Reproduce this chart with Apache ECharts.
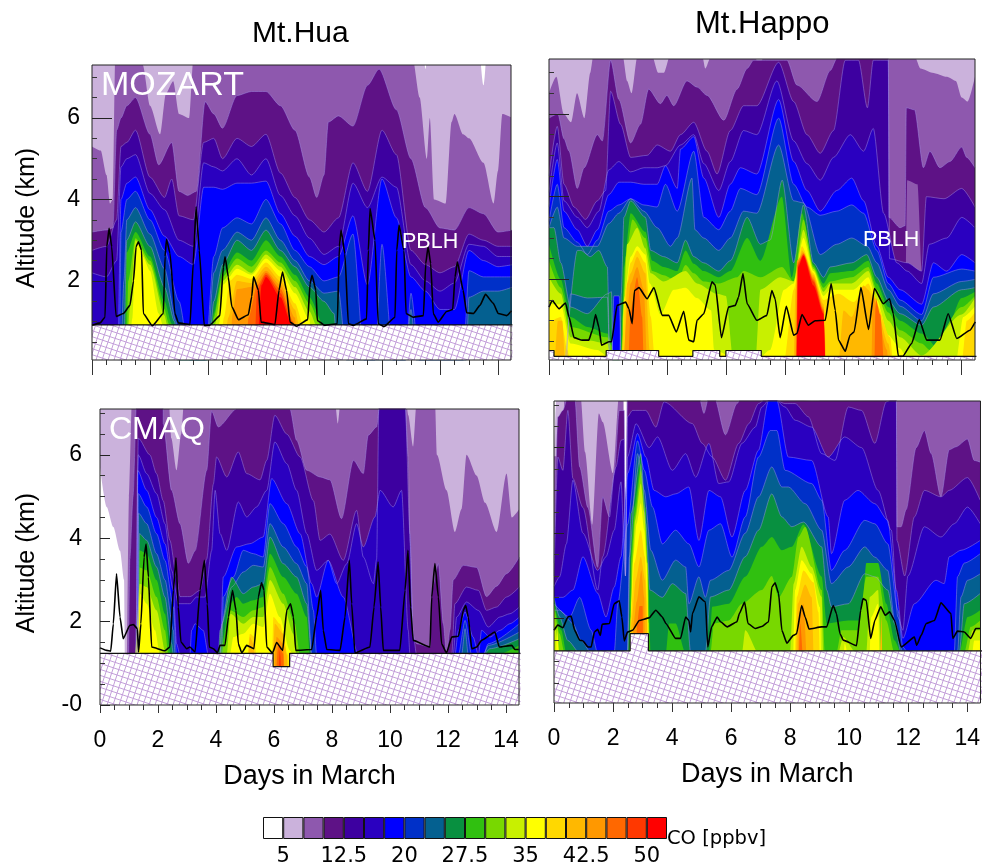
<!DOCTYPE html>
<html><head><meta charset="utf-8">
<style>html,body{margin:0;padding:0;background:#fff}#c{width:983px;height:867px}</style>
<script src="https://cdn.jsdelivr.net/npm/echarts@6/dist/echarts.min.js"></script>
</head><body><div id="c"></div>
<script>
// CO colour classes, white (below 5 ppbv) to red (50+ ppbv)
const coColors = ['#ffffff','#cbb2dc','#8e58ae','#5e1286','#3d00a0','#2a00c0','#0000ff','#0030c8','#046090','#089040','#30c010','#78d800','#c8f000','#ffff00','#ffd800','#ffb800','#ff9800','#ff6800','#ff3800','#ff0000'];
const legendTickLabels = ['5','12.5','20','27.5','35','42.5','50'];
const legendTickPositions = [1,4,7,10,13,16,19];
const majorDays = [0,2,4,6,8,10,12,14];
const minorDays = [0.5,1,1.5,2.5,3,3.5,4.5,5,5.5,6.5,7,7.5,8.5,9,9.5,10.5,11,11.5,12.5,13,13.5];
const minorAlt = [0.5,1,1.5,2.5,3,3.5,4.5,5,5.5,6.5,7];

// Each layer: [colour class, [day, km, day, km, ...]] = filled contour, painted in order
const huaMozart = [
[1,[0,9,11.3,9,11.5,7.2,11.7,9,13.2,9,13.5,6.8,13.75,9,14.5,9]],
[2,[0,5.3,.3,5.2,.5,4.6,.62,3.9,.72,4,.8,7.5,1.5,7.5,1.75,7.3,2,6.3,2.35,5.6,2.55,6.6,2.8,6.9,3,6.1,3.35,6,3.5,7.5,11.05,7.5,11.3,6.5,11.55,5,11.65,6,11.8,4,12.2,3.9,12.4,5.9,12.5,6.1,12.8,5.6,13,5.5,13.5,4.9,13.85,3.9,14,4.7,14.15,6.1,14.5,6]],
[3,[0,3.2,.5,3.25,.72,3.3,.85,5.7,1,6,1.2,6.3,1.5,6.5,2,5.6,2.3,4.85,2.75,5.4,3,4.2,3.3,4.1,3.6,4.2,3.9,6.4,4.2,6.1,4.5,5.75,5,6.55,5.5,6.65,6,6.65,6.5,6.3,7,5.7,7.5,4.55,7.75,4.05,8,4.6,8.15,5.9,8.5,6.05,9,5.8,9.5,6.8,9.9,7.2,10.5,6.2,11,5,11.5,3.8,12,3.3,12.5,3.25,13,3.8,13.5,3.65,14,3.2,14.5,3.25]],
[4,[0,2.75,.5,2.85,.85,3.5,1,5.3,1.2,5.4,1.5,5.7,2,4.55,2.5,4.05,2.75,4.5,3,3.6,3.5,3.5,3.85,5.4,4.2,5.5,4.5,5,5,5.5,5.5,5.3,6,5.6,6.5,4.65,7,4.05,7.5,3.5,8,3.2,8.5,3.55,9,4.9,9.5,4.2,10,5.7,10.5,5.1,11,2.75,11.5,2.4,12,2.2,12.5,2.35,13,3.15,13.5,3,14,2.85,14.5,2.85]],
[5,[0,2.2,.5,2.1,.85,2.5,1,4.8,1.2,5,1.5,5.1,2,4.15,2.5,3.75,3,3,3.5,2.85,3.85,4.9,4.2,4.8,4.5,4.7,5,5,5.5,4.6,6,5,6.5,4.1,7,3.6,7.5,3.05,8,2.65,8.5,2.85,9,4.4,9.5,3.8,10,4.55,10.5,4.3,11,2.4,11.5,2,12,1.75,12.5,1.95,13,2.9,13.5,2.85,14,2.6,14.5,2.6]],
[6,[.9,0,1,4,1.2,4.4,1.5,4.55,2,3.75,2.5,3.1,3,2.6,3.5,2.4,3.85,4.3,4.2,4.3,4.5,4.25,5,4.4,5.5,4.4,6,4.45,6.5,3.65,7,3.1,7.5,2.6,8,2.4,8.5,2.6,9,3.6,9.5,1.9,10,4.5,10.5,3.55,11,2.1,11.5,1.75,12,1.3,12.5,1.3,13,2.75,13.5,2.5,14,2.35,14.5,2.4]],
[7,[.95,0,1,3.2,1.2,4,1.5,4.2,2,3.5,2.5,2.75,3,1.5,3.4,0,3.9,0,4.2,2.6,4.5,3.3,5,3.55,5.5,3.4,6,4,6.5,3.4,7,2.75,7.5,2.35,8,2,8.5,2.1,9,3.15,9.4,0,9.75,0,10,2.9,10.4,0,10.8,0,11,1.7,11.3,0,12.8,0,13,2.25,13.5,2.1,14,2.1,14.5,2.1]],
[8,[1,0,1.1,2,1.2,3.5,1.5,3.8,2,3.15,2.5,2.3,2.9,1,3,0,3.95,0,4.2,2.2,4.5,2.75,5,3.2,5.5,3,6,3.55,6.5,3,7,2.5,7.5,2,8,1.7,8.5,1.75,8.8,0,10.8,0,11,1.3,11.2,0,12.9,0,13,1.6,13.5,1.75,14,1.75,14.5,1.85]],
[9,[1.1,0,1.2,3,1.5,3.45,2,2.85,2.5,1.85,2.85,1,2.95,0,4,0,4.2,1.5,4.5,2.4,5,3,5.5,2.75,6,3.25,6.5,2.75,7,2.35,7.5,1.85,8,1.5,8.35,1.2,8.45,0]],
[10,[1.15,0,1.2,2.7,1.5,3.2,2,2.6,2.5,1.5,2.75,.95,2.85,0,4.05,0,4.2,1.2,4.5,2.2,5,2.7,5.5,2.5,6,3,6.5,2.6,7,2.15,7.5,1.6,8,.9,8.1,0]],
[11,[1.2,0,1.25,2,1.5,3.05,2,2.5,2.5,1.3,2.65,.95,2.75,0,4.1,0,4.2,1.1,4.5,2.1,5,2.55,5.5,2.35,6,2.75,6.5,2.45,7,2,7.5,1.45,7.9,.9,8,0]],
[12,[1.2,0,1.3,1.3,1.5,3,2,2.4,2.5,1.15,2.6,.9,2.65,0,4.15,0,4.25,.95,4.5,2,5,2.4,5.5,2.2,6,2.65,6.5,2.35,7,1.85,7.5,1.25,7.75,.9,7.85,0]],
[13,[1.25,0,1.4,1.1,1.5,2.8,1.6,2.95,1.75,2.6,2,2.25,2.3,1.2,2.45,.9,2.5,0,4.25,0,4.4,1,4.5,1.9,5,2.3,5.5,2.15,6,2.55,6.5,2.25,7,1.7,7.5,1.05,7.6,0]],
[14,[4.4,0,4.55,1.1,4.75,2,5,2.15,5.5,2.05,6,2.45,6.5,2.1,7,1.45,7.3,.9,7.4,0]],
[15,[4.55,0,4.7,1.1,5,2,5.5,1.95,6,2.35,6.5,2,7,1.3,7.15,.9,7.25,0]],
[16,[4.75,0,4.85,1.2,5,1.8,5.5,1.85,6,2.25,6.5,1.9,7,1.1,7.1,0]],
[17,[5.3,0,5.4,1.1,5.7,1.9,6,2.2,6.5,1.8,6.95,1,7,0]],
[18,[5.6,0,5.7,1.8,6,2.15,6.5,1.7,6.9,1,6.95,0]],
[19,[5.7,0,5.85,1.9,6,2.1,6.5,1.6,6.85,1,6.9,0]]
];
const happoMozart = [
[1,[0,9,14.5,9]],
[2,[0,6.5,.25,6.9,.5,6,.75,5.8,.95,6.5,1.2,5.9,1.4,7,1.5,7.4,2.5,7.4,2.65,6.8,2.8,6.5,3,7.4,3.5,7.4,3.7,7,3.9,7,4.1,7.4,5.2,7.4,5.3,7.1,5.5,7.4,7,7.4,7.1,7.1,7.3,7.4,12.4,7.4,12.6,7.1,13,7,13.5,6.9,13.8,6.8,14,6.4,14.2,6.3,14.45,6.9]],
[3,[0,5.9,.3,6,.51,5.4,.68,5.1,.96,4.2,1.19,4.7,1.64,5.5,1.81,5.35,2.09,7.3,2.37,6.35,2.77,5.3,3.1,5.75,3.38,6.6,3.78,6.25,4,6.45,4.23,6.2,4.68,6.8,5.02,6.65,5.36,6.45,5.93,5.85,6.38,6.6,6.72,7.1,6.94,7.3,8.07,7.3,8.41,6.7,9.09,6.3,9.54,7.05,9.77,7.35,11.51,7.35,11.53,3.5,11.91,3.25,12.08,3.3,12.12,6.15,12.4,6.1,12.7,4.7,12.92,5.1,13.26,4.7,13.6,4.85,14,5.2,14.17,4.95,14.45,4.7]],
[2,[12.08,0,12.15,4.4,12.5,4.3,12.65,2.2,12.7,0]],
[4,[0,4.5,.28,5.7,.51,4.3,.85,3.75,1.24,3.45,1.64,3.9,1.92,4.15,2.09,6.55,2.43,5.75,2.77,4.95,3.33,5,3.67,5.25,4.12,5.1,4.46,5.5,4.91,5.8,5.36,5.1,5.7,4.55,6.15,5.6,6.6,6.2,7.05,6.2,7.79,7.25,8.3,6.3,8.75,5.5,9.2,5.05,9.65,5.6,10.05,7.3,10.5,7.3,10.8,6.15,11,7.3,11.51,7.3,11.55,2.5,12.15,2.4,12.64,2.2,12.8,4,13.4,3.95,14,4.2,14.45,3.75]],
[5,[0,4.1,.28,5.3,.51,3.9,.96,3.5,1.3,3.25,1.69,3.65,2.03,4.65,2.37,4.85,2.77,4.6,3.22,4.7,3.67,4.7,3.95,4.75,4.46,5.25,4.91,5.5,5.25,4.8,5.76,4.15,6.15,4.85,6.6,5.6,7.05,5.5,7.73,6.8,8.3,5.35,8.75,4.8,9.2,4.4,9.65,4.95,10.22,5.5,10.67,5.1,11,5.65,11.35,3.6,11.8,2.4,12.15,2.2,12.64,1.9,12.9,2.85,13.49,3,14,3.5,14.45,3.25]],
[6,[0,3.75,.28,4.9,.51,3.65,.96,3.2,1.3,2.8,1.64,3.2,2.03,4.05,2.37,4.35,2.77,4.35,3.22,4.3,3.67,4.3,3.95,4.75,4.35,4.2,4.46,5.15,4.91,5.45,5.25,4.45,5.76,3.5,6.15,4.3,6.49,4.7,7.05,4.55,7.79,6.35,8.3,4.85,8.75,4.15,9.2,3.65,9.76,4.15,10.27,4.45,10.67,3.9,11.12,2.8,11.51,2.05,11.91,1.75,12.64,1.4,13.04,2.4,13.49,2.2,14,2.6,14.45,2.4]],
[7,[0,3.4,.28,4.3,.51,3.25,.96,2.9,1.3,2.6,1.64,2.95,2.03,3.65,2.37,3.8,2.77,3.95,3.22,3.8,3.67,3.75,3.95,4.3,4.35,3.65,4.91,5.1,5.25,3.5,5.76,3.2,6.15,3.65,6.49,4.2,7.05,4.05,7.79,5.9,8.3,4.3,8.75,3.75,9.2,3.55,9.76,3.65,10.27,3.8,10.67,3.6,11.12,2.7,11.51,1.9,11.91,1.5,12.64,1.15,13.04,2.05,14,2.25,14.45,2.2]],
[8,[0,3.25,.28,3.75,.51,3,.96,2.8,1.3,2.8,1.64,2.8,2.03,3.35,2.37,3.6,2.77,3.95,3.22,3.65,3.67,3.25,4.12,2.8,4.35,3,4.85,4.45,4.95,3.2,5.25,3,5.76,2.7,6.15,3,6.6,3.65,7.05,3.6,7.79,5.25,8.3,3.9,8.63,3.85,9.2,2.6,9.76,2.85,10.27,3,10.8,2.8,11.12,2.4,11.51,1.75,11.91,1.35,12.64,1,13.04,1.65,14,1.95,14.45,2]],
[9,[.55,0,.96,2.7,1.08,2.7,1.4,2.55,1.69,2.7,1.98,2.3,2.05,0]],
[8,[.6,0,.73,1.65,1.3,1.55,1.98,1.57,2.05,0]],
[9,[0,3.25,.17,3.25,.4,2.4,.73,1.33,1.3,1.17,1.98,1.65,2.12,1.7,2.16,0,2.4,0,2.45,1.65,2.54,3.5,2.77,3.9,3.27,3.5,3.45,2.7,3.89,2.55,4.35,2.4,4.63,2.95,4.91,2.55,5.25,2.4,5.76,2.2,6.15,2.45,6.72,3.5,7.17,2.85,7.5,2.95,7.91,4.4,8.3,2.4,8.63,3.8,8.97,2.4,9.31,2.05,9.54,2.3,10.27,2.4,10.78,2.6,11.12,2.05,11.51,1.49,11.91,1.17,12.64,.89,13.04,1.33,14,1.75,14.45,1.8]],
[6,[2.14,0,2.2,1.6,2.38,1.6,2.44,0]],
[10,[0,2.85,.4,2,.73,1.09,1.3,.85,1.98,.69,2.12,.5,2.14,0,2.44,0,2.49,1.09,2.54,2.3,2.77,3.6,3.27,3.15,3.5,2.45,3.89,2.3,4.35,2.2,4.63,2.7,4.91,2.38,5.25,2.2,5.76,2.05,6.15,2.2,6.72,3,7.17,2.45,7.9,4,8.24,2.05,8.58,3.6,8.97,2.35,9.31,1.9,9.54,2.15,10.27,2.2,10.83,2.45,11.12,1.9,11.51,1.33,11.91,1,12.64,.69,13.26,.29,14,1.55,14.45,1.7]],
[11,[0,2.45,.4,1.8,.73,.85,1.98,.6,2.12,.4,2.14,0,2.46,0,2.5,1.09,2.6,2.55,2.83,3.45,3.27,3,3.5,2.2,3.89,2.1,4.35,1.95,4.63,2.35,4.91,2.15,5.25,1.95,5.76,1.9,6.38,2.05,6.6,2.2,7.17,2.05,7.9,2.3,8.3,1.95,8.63,3.45,8.97,2.3,9.31,1.8,9.54,1.95,10.27,2.05,10.83,2.3,11.12,1.75,11.51,1.2,11.91,.77,12.64,.45,12.92,.29,14,1.33,14.45,1.6]],
[12,[0,2.05,.4,1.65,.73,.6,1.3,.53,1.98,.45,2.14,0,2.5,0,2.52,1.09,2.65,2.85,2.99,3.25,3.27,2.75,3.45,2.15,3.89,1.95,4.63,2.2,5.02,1.9,5.7,1.65,6,1.6,6.26,0,7,0,7.17,1.75,7.84,2.05,8.3,1.95,8.63,3.2,8.97,2.25,9.31,1.7,9.54,1.9,10.27,1.9,10.83,2.2,11.12,1.65,11.51,1,11.91,.6,12.64,.16,14,1.15,14.45,1.55]],
[13,[0,1.4,.4,1.4,.73,.45,1.64,.29,1.98,.14,2.4,0,2.5,0,2.54,1.5,2.77,2.55,2.99,2.8,3.27,2.6,3.42,1.9,3.78,1.15,4.23,1.75,4.63,1.8,5.02,1.55,5.5,1.25,5.6,.3,6.15,.15,6.3,0,7,0,7.5,.29,7.97,1.75,8.3,1.9,8.63,3,8.97,2.2,9.31,1.6,9.54,1.75,10.33,1.75,10.83,2.05,11.12,1.5,11.51,.65,11.91,.33,12.2,0,13.8,0,14.05,1.09,14.45,1.35]],
[14,[0,.95,.4,1.09,.62,.29,.73,0,2.45,0,2.6,1.75,2.77,2.4,2.99,2.7,3.27,2.4,3.45,1.1,3.6,0,7.97,0,8.3,1.75,8.58,2.8,8.97,2.15,9.31,1.5,9.82,1.65,10.33,1.45,10.83,1.9,11.12,1.4,11.57,.6,11.68,0,14,0,14.17,1,14.45,1.2]],
[15,[.2,0,.3,1,.45,1,.55,0,2.55,0,2.65,1.9,2.77,2.15,2.99,2.55,3.27,2.15,3.42,.3,3.5,0,8.3,0,8.36,1.75,8.58,2.7,8.97,2.1,9.31,1.4,9.42,0,9.82,0,9.99,1.25,10.27,1.09,10.67,1.85,10.83,1.75,11.12,1.25,11.51,.45,11.62,0]],
[16,[2.54,0,2.65,1.25,2.77,1.9,2.99,2.3,3.22,1.75,3.33,0,8.36,0,8.41,2.45,8.63,2.65,8.97,2.05,9.31,1.32,9.37,0,10.94,0,10.99,1.8,11.12,1.2,11.46,.3,11.51,0]],
[17,[2.7,0,2.77,1.25,2.99,2.05,3.16,1.09,3.22,0,8.38,0,8.44,2.4,8.63,2.62,8.97,2,9.31,1.27,9.37,0,11.04,0,11.08,1.55,11.24,1.15,11.35,0]],
[18,[8.4,0,8.44,2.35,8.63,2.6,8.97,1.95,9.31,1.22,9.37,0]],
[19,[8.41,0,8.45,2.3,8.63,2.57,8.97,1.85,9.31,1.17,9.37,0]]
];
const huaCmaq = [
[1,[0,9,14.5,9]],
[0,[0,5.7,.23,4.75,.46,4.27,.69,3.7,.83,3,.87,0]],
[2,[.92,0,1,5,1.1,7.3,2.37,7.3,2.46,6.4,2.64,5.63,2.8,6.5,2.9,7.3,8.1,7.3,8.2,6.75,8.3,7.3,10.55,7.3,10.63,6.95,10.8,6.2,10.92,7.3,11.55,7.3,11.62,6,11.95,5.15,12.24,4.15,12.47,4.7,12.64,6,12.99,5.5,13.28,4.85,13.68,4.15,14.02,5.55,14.2,4.5,14.46,4.7]],
[3,[.97,0,1.03,3.5,1.14,5,1.26,7.3,2.18,7.3,2.18,6.75,2.47,5.15,2.76,4.35,3.05,3.4,3.28,3.7,3.68,5.63,3.85,7.05,4.08,6.67,4.71,7.1,6.55,7.1,6.78,6.35,7.13,5.63,7.59,5.47,7.93,5.4,8.33,4.47,8.74,5.87,9.08,5.55,9.25,6.47,9.54,6.67,9.66,7.3,10.52,7.3,10.63,5.95,10.69,3.9,10.8,1.63,10.92,1.47,11.38,1.39,11.44,2.75,11.67,3.39,11.84,1.95,11.95,1.2,12.07,1.8,12.18,3,12.53,3.35,12.99,3.3,13.33,2.6,13.68,2.85,14.02,3.15,14.46,3.55]],
[4,[1.2,0,1.25,2,1.32,6.4,1.72,6,1.95,5.55,2.18,4.9,2.41,3.95,2.64,3.07,2.76,2.6,3.1,2.6,3.45,2.75,3.68,3.5,3.91,5.3,4.02,5.95,4.37,5.47,4.77,6.07,5.06,5.55,5.52,5.4,5.75,5.87,6.03,6.95,6.44,6.5,6.9,5.95,7.36,4.9,7.59,3.95,7.93,4.1,8.39,3.47,8.85,4.67,9.08,3.55,9.43,2.91,9.54,3.5,9.62,7.3,10.52,7.3,10.69,4.1,10.8,1.7,10.92,1.2,12.13,1.2,12.24,2.43,12.64,2.83,13.05,2.75,13.33,2.27,13.68,2.35,14.02,2.59,14.46,2.83]],
[5,[1.25,0,1.29,5.5,1.32,6,1.61,5.55,1.95,5.07,2.24,4.35,2.47,3.23,2.7,2.43,3.1,2.43,3.33,2.59,3.62,2.59,3.85,3.7,3.97,5.15,4.14,4.11,4.37,3.71,4.77,4.87,5.06,4.51,5.4,4.75,5.75,5.15,6.03,6.31,6.44,5.79,6.78,5.15,7.13,4.11,7.47,3.23,7.87,3.47,8.16,2.91,8.51,3.39,8.85,4.35,9.08,3.79,9.48,4.51,9.66,5.15,10.11,4.75,10.4,5.15,10.63,1.79,10.69,1.2,12.18,1.2,12.3,2.11,12.64,2.47,13.05,2.27,13.39,1.87,13.79,2.11,14.14,2.19,14.46,2.35]],
[6,[1.27,0,1.3,5.63,1.61,5.15,1.95,4.5,2.24,3.87,2.53,2.75,2.64,1.47,2.76,1.2,3.1,1.2,3.16,1.79,3.28,1.95,3.56,1.79,3.74,1.2,4.14,1.2,4.25,3.07,4.71,3.79,5.17,3.87,5.63,4.03,5.92,5.43,6.44,4.83,6.9,4.11,7.3,2.91,7.47,2.59,7.87,3.47,8.39,2.59,8.91,1.2,12.24,1.2,12.36,1.79,12.59,2.23,12.87,1.63,13.05,1.2,13.16,1.79,13.45,1.63,13.79,1.79,14.14,1.95,14.46,2.11]],
[7,[1.3,0,1.32,5.07,1.61,4.75,1.95,4.11,2.24,3.47,2.53,2.35,2.64,1.2,4.2,1.2,4.25,2.59,4.6,3.07,4.94,3.71,5.29,3.63,5.63,3.55,5.86,4.83,6.32,4.35,6.78,3.79,7.13,3.31,7.36,2.27,7.47,1.2,12.36,1.2,12.59,2.03,12.82,1.2,13.22,1.2,13.39,1.47,14.46,1.95]],
[8,[1.3,0,1.33,4.6,1.61,4.35,1.95,3.63,2.24,3,2.53,1.79,2.59,1.2,4.14,1.2,4.2,1.95,4.54,2.83,4.94,3.19,5.29,3.35,5.63,3.31,5.86,4.35,6.32,3.79,6.78,3.39,7.13,2.91,7.3,1.2,12.47,1.2,12.59,1.83,12.7,1.2,13.22,1.2,13.39,1.43,14.46,1.75]],
[9,[1.31,0,1.36,4.11,1.61,3.95,1.95,3.31,2.24,2.59,2.47,1.47,2.53,1.2,4.08,1.2,4.14,1.79,4.54,3.07,4.94,2.67,5.29,2.83,5.63,2.91,5.86,4.03,6.32,3.39,6.78,3.07,7.13,2.43,7.3,1.2,13.22,1.2,13.45,1.35,14.46,1.59]],
[10,[1.32,0,1.36,3.71,1.61,3.63,1.95,3,2.24,2.19,2.44,1.2,4.14,1.2,4.2,1.47,4.48,2.43,4.71,2.59,4.94,2.43,5.29,2.51,5.63,2.59,5.86,3.63,6.32,3.07,6.78,2.67,7.13,2.11,7.24,1.2,13.68,1.2,14.46,1.43]],
[11,[1.33,0,1.37,3.3,1.61,3.23,1.95,2.59,2.24,1.79,2.36,1.2,4.2,1.2,4.25,1.39,4.48,2.27,4.94,2.11,5.29,2.27,5.63,2.35,5.86,3.31,6.32,2.67,6.72,1.95,6.9,1.2,6.95,0]],
[12,[1.2,0,1.21,1.2,1.37,2.91,1.61,2.83,1.95,2.27,2.28,1.2,4.37,1.2,4.5,2.19,4.94,1.95,5.29,2.11,5.63,2.11,5.86,3,6.32,2.43,6.67,1.71,6.78,1.2,6.85,0]],
[13,[1.25,0,1.26,1.2,1.38,2.67,1.61,2.43,1.9,1.79,2.07,1.2,4.48,1.2,4.6,1.63,4.94,1.71,5.29,1.95,5.63,1.87,5.86,2.67,6.2,2.11,6.55,1.31,6.67,1.2,6.72,0]],
[14,[5,0,5.17,1.71,5.34,1.63,5.46,0,5.9,0,5.98,2.11,6.2,1.95,6.49,1.2,6.55,0]],
[15,[5.06,0,5.17,1.63,5.29,1.47,5.4,0,5.9,0,6.03,1.95,6.32,1.71,6.44,1.2,6.5,0]],
[16,[5.97,0,6.09,1.63,6.32,1.47,6.4,0]],
[17,[6.03,0,6.15,1.47,6.32,1.23,6.37,0]],
[18,[6.12,0,6.2,1.31,6.3,0]]
];
const happoCmaq = [
[1,[0,5.8,.08,7.2,2.35,7.2,2.38,3,2.43,3,2.46,7.2,14.5,7.2]],
[2,[0,5.8,.3,5.8,.35,7.2,.9,7.2,1.05,5.9,1.3,4.2,1.52,6.8,1.65,6.6,2,5.4,2.2,7.2,2.35,7.2,2.38,3,2.45,3,2.48,7.2,14.5,7.2]],
[3,[0,3.3,.13,6.72,.3,6.87,.47,7.2,.7,7.2,.87,5.55,1.15,4.6,1.48,3.2,1.65,4.85,1.88,4.38,2.04,5.4,2.21,6.87,2.38,6.87,2.42,3,2.49,7.2,4.91,7.2,5.08,6.8,5.25,7.2,5.42,7.2,5.81,6.3,6.2,7.03,6.37,7.2,8.96,7.1,9.18,7.2,11.6,7.2,11.62,4.15,11.76,4.15,11.93,4.55,12.27,6,12.55,6.4,12.78,5.86,13.11,4.85,13.39,5.95,13.62,6.02,14.01,6.2,14.24,5.7,14.44,5.66]],
[4,[0,3,.13,5.78,.3,5.47,.47,6.87,.64,5.28,.98,4.6,1.48,2.67,1.65,3.45,2.1,5.55,2.27,6.17,2.38,6.2,2.42,3,2.49,6.72,2.66,6.87,3.11,6.87,3.45,6.48,3.73,7.07,4.69,6.56,5.02,6.1,5.36,5.78,5.81,5.24,6.26,6.1,6.6,6.56,6.93,7.03,7.27,7.2,7.83,7.03,8.17,7.03,8.62,6.72,9.07,5.86,9.52,5.7,9.97,6.95,10.42,6.87,10.87,6.1,11.26,7.07,11.6,7.2,11.62,3.83,11.88,3,12.21,4.38,12.55,5,13.11,4.85,13.39,5,14.01,5.3,14.44,4.77]],
[5,[0,2.75,.19,2.98,.42,3.75,.64,5.24,.98,4,1.48,3.13,1.76,3.45,2.04,4.07,2.27,5.2,2.42,3,2.49,5.78,2.78,6.56,3.22,6,3.51,6.25,4.01,5.47,4.46,5.86,4.8,5.31,5.25,6.1,5.58,5.16,5.92,5.2,6.37,6.1,6.82,6.48,7.04,6.95,7.38,7.2,7.83,6.95,8.17,6.64,8.73,6.48,9.29,5.78,9.85,6.25,10.42,6,10.98,5,11.43,4.07,11.65,2.04,11.82,1.73,11.99,3,12.55,4.15,13.11,3.91,13.56,4.22,14.01,4.61,14.44,4.22]],
[6,[0,2.5,.3,2.5,.64,2.67,.98,3.45,1.48,2.6,1.76,2.04,2.04,2.74,2.27,3.45,2.49,5.39,2.83,6.33,3.11,5.78,3.39,5,3.79,4.85,4.12,4.92,4.57,5.08,4.91,3.83,5.25,5,5.64,4.85,6.03,3.91,6.48,5,6.93,5.94,7.27,7.1,7.55,7.1,7.94,5.78,8.73,5.7,9.29,4.38,9.4,3.52,9.85,4.77,10.3,5,10.87,4.69,11.31,4.3,11.6,2.67,11.82,1.54,12.21,2.35,12.94,2.9,13.22,2.82,13.39,3.45,13.79,3.6,14.44,3.83]],
[7,[0,2.35,.53,2.04,.87,2.5,1.26,1.73,1.48,1.2,2.04,1.2,2.16,2.35,2.49,4.2,2.83,6.16,3.06,5.47,3.34,4.61,3.67,3.75,4.12,4.07,4.57,3.75,4.91,3.21,5.25,4.07,5.64,4.22,6.03,3.44,6.48,4.38,6.93,5.78,7.33,6.4,7.55,6.4,7.83,5.47,8.73,5.16,9.07,4.77,9.4,3.13,9.85,3.6,10.53,4.3,10.87,4.22,11.31,3.75,11.65,2.2,11.82,1.34,11.99,1.2,13.56,1.2,13.67,2.98,13.9,3.3,14.44,3.52]],
[8,[0,2.2,.19,2.2,.64,1.89,.92,1.49,1.26,1.2,2.49,1.2,2.55,3.44,2.83,5.86,3.06,5,3.28,3.6,3.67,2.9,4.12,3.37,4.46,3.21,4.57,2.35,4.91,2.98,5.13,2.5,5.3,2.9,5.92,3.13,6.48,4,6.93,4.85,7.38,5.55,7.72,5.08,7.94,5.08,8.51,4.69,9.07,4.07,9.4,2.82,9.97,3.21,10.53,3.68,10.87,3.44,11.31,3.13,11.54,1.96,11.82,1.2,13.67,1.2,13.79,2.51,14.01,2.9,14.44,3.05]],
[9,[0,2.5,.19,2.04,.47,1.49,.87,1.2,2.49,1.2,2.61,4.46,2.94,5.86,3.11,4.22,3.25,2.67,3.67,2.5,4.01,2.82,4.46,2.59,4.63,1.2,5.13,1.2,5.3,2.51,5.92,2.67,6.48,3.45,6.93,4.07,7.38,4.92,7.72,4.38,8.06,4.15,8.45,4.26,9.07,3.68,9.24,2.67,9.4,2.28,9.97,2.35,10.53,3.05,10.87,2.98,11.31,2.67,11.54,1.89,11.76,1.2,13.73,1.2,13.9,2.35,14.44,2.59]],
[10,[0,2.35,.25,1.73,.42,1.2,2.55,1.2,2.62,3.6,2.72,4.6,2.94,5.63,3.1,4.6,3.18,3.3,3.28,1.2,3.79,1.2,3.9,1.89,4.12,1.89,4.46,1.2,5.25,1.2,5.36,2.28,5.92,2.35,6.48,2.98,7.04,3.68,7.38,3.91,7.72,3.6,8.06,3.68,8.45,4.2,9.07,2.98,9.24,1.89,9.97,1.96,10.42,1.96,10.58,3.3,10.98,3.3,11.26,2.35,11.54,1.49,11.76,1.2,13.73,1.2,14.01,2.04,14.44,2.2]],
[11,[0,2.35,.19,1.65,.36,1.2,2.58,1.2,2.63,3.4,2.74,4.4,2.94,5.47,3.08,4.4,3.17,3.3,3.24,1.2,5.3,1.2,5.42,1.89,5.92,1.96,6.37,2.35,7.04,2.67,7.38,3,7.61,2.5,8.06,2.98,8.28,3.91,8.51,4.15,9.07,2.67,9.18,1.2,9.57,1.2,9.74,1.73,10.3,1.73,10.58,2.98,10.98,2.98,11.26,1.96,11.54,1.2,13.9,1.2,14.12,1.81,14.44,1.96]],
[12,[0,2.2,.17,1.2,2.6,1.2,2.66,3.3,2.75,4.3,2.94,5.16,3.06,4.5,3.16,3.3,3.22,1.2,6.37,1.2,6.48,1.73,6.93,1.2,8,1.2,8.12,2.82,8.39,3.68,8.73,3.21,9.07,2.51,9.12,1.2,9.63,1.2,9.8,1.57,10.24,1.2,10.58,1.2,10.7,2.51,10.98,2.67,11.09,1.2,14.01,1.2,14.18,1.73,14.44,1.73]],
[13,[.05,0,.1,1.8,.18,1.2,.2,0,2.55,0,2.62,2.4,2.69,3.45,2.8,4.22,2.94,4.7,3.06,4.07,3.14,3.3,3.2,1.9,3.22,0,8.06,0,8.17,2.67,8.39,3.37,8.73,3.05,9.01,2.27,9.09,0,9.74,0,9.85,1.42,10.19,0,10.64,0,10.75,2.04,10.98,2.35,11.07,0,14.01,0,14.24,1.49,14.44,1.49]],
[14,[2.55,0,2.6,2,2.72,3.3,2.94,4.07,3.08,3.45,3.16,2.4,3.2,0,8.12,0,8.23,2.51,8.45,3.13,8.79,2.85,8.96,2.15,9.04,0]],
[15,[2.58,0,2.62,1.9,2.77,2.9,2.94,3.45,3.09,2.9,3.15,2,3.18,0,8.17,0,8.26,2.35,8.51,2.8,8.73,2.5,8.85,0,11.03,0,11.09,2.04,11.15,0]],
[16,[2.62,0,2.7,1.9,2.8,2.4,2.96,3.13,3.06,2.5,3.1,0,8.23,0,8.31,2.04,8.45,2.35,8.62,0]],
[17,[2.75,0,2.82,1.9,2.9,2.3,3,2.3,3.05,0,8.26,0,8.34,1.89,8.51,0]]
];

// Planetary boundary layer height: day, km, day, km, ...
const huaMozartPblh = [0,.91,.28,.97,.45,1.11,.51,2.84,.59,3.29,.68,2.84,.83,1.13,1.08,1.2,1.31,1.4,1.43,2,1.52,2.84,1.6,2.96,1.71,2.75,1.77,1.2,2.08,.9,2.46,1.2,2.52,2.6,2.57,3.02,2.69,2.68,2.86,1.2,2.98,.97,3.38,.93,3.49,2.43,3.59,3.82,3.7,2.75,3.87,.91,4.05,.91,4.41,1.15,4.53,2.34,4.59,2.59,4.7,2.1,4.82,1.37,5.05,1.05,5.39,1.17,5.51,1.62,5.57,2.1,5.74,1.77,5.83,.99,6.31,.93,6.45,1.77,6.57,2.22,6.71,1.77,6.83,.99,7.06,.89,7.44,1.05,7.52,1.93,7.59,2.14,7.72,1.77,7.77,1.03,8.03,.91,8.46,.95,8.53,2.84,8.59,3.25,8.72,2.67,8.84,.95,9.01,.91,9.47,1.07,9.53,2.75,9.59,3.78,9.76,3,9.87,.95,10.07,.88,10.45,1.11,10.51,2.75,10.59,3.37,10.76,2.75,10.83,1.2,11.08,1.11,11.43,1.15,11.51,2.43,11.59,2.84,11.68,2.43,11.77,1.2,11.94,.99,12.23,1.25,12.44,1.3,12.52,2.1,12.6,2.47,12.8,1.77,12.92,1.22,13.15,1.2,13.38,1.4,13.57,1.67,13.84,1.45,14.01,1.2,14.3,1.15,14.47,1.27];
const happoMozartPblh = [0,1.33,.11,1.49,.34,1.29,.56,1.43,.68,1.09,.85,.59,1.13,.53,1.35,.53,1.47,.77,1.58,1.15,1.69,.85,1.78,.41,2.03,.49,2.12,.49,2.31,1.37,2.6,1.45,2.71,1.29,2.82,.93,2.9,1.73,3.05,1.8,3.33,1.53,3.56,1.8,3.84,1.13,4.06,1.13,4.32,.73,4.57,1.23,4.74,.53,4.91,.49,5.02,1.01,5.25,1.17,5.53,1.94,5.64,1.86,5.85,.59,6.09,1.33,6.32,1.37,6.43,1.57,6.58,2.14,6.72,1.41,7.05,1.01,7.39,1.13,7.56,1.73,7.67,1.53,7.84,.59,8.05,1.35,8.3,.65,8.41,.69,8.58,1.15,8.8,.89,9.03,1,9.37,1.01,9.57,1.9,9.71,1.25,9.82,.53,10.05,.26,10.21,.65,10.35,.73,10.58,1.8,10.84,.79,11.04,1.78,11.34,1.41,11.55,1.53,11.68,1.17,11.85,.14,12,.14,12.3,.45,12.56,1.03,12.81,.53,13.26,.53,13.54,1.17,13.83,.57,14.28,.77,14.46,.97];
const huaCmaqPblh = [0,1.37,.23,1.31,.37,1.29,.46,1.95,.57,3.15,.69,2.11,.8,1.59,1.03,1.91,1.15,1.93,1.29,1.83,1.33,1.27,1.41,1.95,1.52,3.55,1.59,3.86,1.67,3.07,1.78,1.39,2.24,1.3,2.41,1.39,2.53,2.75,2.62,3.53,2.7,2.35,2.79,1.51,2.99,1.35,3.1,1.39,3.28,1.27,3.45,2.75,3.6,3.47,3.7,2.43,3.77,1.39,3.91,1.35,4.05,1.25,4.14,1.43,4.31,1.43,4.43,2.11,4.57,2.75,4.69,2.27,4.77,1.47,4.89,1.25,5.06,1.43,5.31,1.35,5.46,2.59,5.57,2.93,5.66,2.75,5.75,1.39,5.95,1.25,6.09,1.5,6.3,1.31,6.44,2.27,6.57,2.43,6.67,2.11,6.75,1.31,7.3,1.33,7.47,2.11,7.61,2.75,7.7,1.79,7.82,1.33,8.28,1.31,8.45,2.11,8.6,3.47,8.68,2.43,8.79,1.25,9.31,1.39,9.45,2.35,9.59,3.43,9.68,2.35,9.77,1.31,10.34,1.31,10.52,2.75,10.62,3.71,10.71,2.35,10.8,1.55,11.38,1.39,11.44,2.59,11.55,3.39,11.67,2.59,11.78,1.47,11.95,1.25,12.13,1.63,12.36,1.65,12.53,2.27,12.61,2.39,12.7,2.11,12.82,1.35,12.99,1.39,13.16,1.55,13.62,1.75,13.77,1.39,14.2,1.43,14.31,1.33,14.46,1.33];
const happoCmaqPblh = [0,1.73,.13,1.85,.3,1.79,.47,2.04,.58,2.06,.7,1.73,.87,1.5,.98,1.48,1.15,1.34,1.26,1.34,1.37,1.69,1.48,1.75,1.57,1.61,1.63,1.87,1.88,1.89,2.04,2.35,2.21,2.42,2.3,2.04,2.38,1.48,2.49,1.69,2.66,1.73,2.89,1.96,3.22,2.02,3.45,2.2,3.67,2.04,3.79,1.89,4.12,1.54,4.29,1.54,4.46,2.04,4.57,1.96,4.63,1.69,4.69,2.12,4.91,2.51,5.13,2.39,5.21,1.34,5.34,1.81,5.53,2.04,5.64,1.93,5.87,1.81,6.2,1.93,6.28,2.12,6.46,2.39,6.57,1.89,6.82,1.77,7.04,1.82,7.27,1.93,7.38,2.74,7.49,2.84,7.61,2.59,7.72,1.73,7.89,1.43,8.11,1.61,8.22,1.65,8.39,2.31,8.51,2.04,8.64,1.76,9.07,1.81,9.24,1.81,9.46,2.31,9.57,2.12,9.69,1.65,9.8,1.5,10.25,1.37,10.39,2.2,10.47,2.47,10.58,2.43,10.73,1.54,10.87,1.96,11.07,2.28,11.22,2.08,11.37,2.16,11.54,1.96,11.76,1.34,12.21,1.57,12.29,1.38,12.44,1.61,12.61,1.89,12.89,1.96,13.11,2.37,13.45,2.12,13.51,1.54,13.67,1.71,13.9,1.69,14.12,1.54,14.29,1.77,14.44,1.77];

// Terrain top: day, km, day, km, ...
const huaMozartGround = [0,.92,14.5,.92];
const happoMozartGround = [0,.28,.17,.28,.17,.14,1.94,.14,1.94,.28,3.72,.28,3.72,.14,4.88,.14,4.88,.28,5.79,.28,5.79,.14,6,.14,6,.28,7.2,.28,7.2,.14,14.5,.14];
const huaCmaqGround = [0,1.24,5.97,1.24,5.97,.92,6.54,.92,6.54,1.24,14.5,1.24];
const happoCmaqGround = [0,1.25,2.58,1.25,2.58,1.65,3.2,1.65,3.2,1.25,14.5,1.25];

function pairs(a){const o=[];for(let i=0;i+1<a.length;i+=2)o.push([a[i],a[i+1]]);return o;}

const hatch=document.createElement('canvas');hatch.width=18;hatch.height=18;
(function(){const g=hatch.getContext('2d');g.fillStyle='#fff';g.fillRect(0,0,18,18);g.strokeStyle='#c4a0da';g.lineWidth=1;
 for(let k=-6;k<=6;k++){const s=k*6;g.beginPath();g.moveTo(-9,s-3);g.lineTo(27,s+9);g.stroke();g.beginPath();g.moveTo(s+3,-9);g.lineTo(s-9,27);g.stroke();}})();

const panels=[
 {layers:huaMozart,pblh:huaMozartPblh,ground:huaMozartGround,rect:[92,65,419,295],ymin:.06,ymax:7.3,xlen:15,ylen:20,yMajor:[2,4,6],yLab:['2','4','6'],showYLab:true,showXLab:false,labMargin:12},
 {layers:happoMozart,pblh:happoMozartPblh,ground:happoMozartGround,rect:[549,59,426,301],ymin:.05,ymax:7.33,xlen:15,ylen:20,yMajor:[2,4,6],yLab:['2','4','6'],showYLab:false,showXLab:false,labMargin:12},
 {layers:huaCmaq,pblh:huaCmaqPblh,ground:huaCmaqGround,rect:[100,409,419,296],ymin:0,ymax:7.1,xlen:8,ylen:10,yMajor:[0,2,4,6],yLab:['-0','2','4','6'],showYLab:true,showXLab:true,labMargin:18},
 {layers:happoCmaq,pblh:happoCmaqPblh,ground:happoCmaqGround,rect:[554,401,429,302],ymin:.03,ymax:7.09,xlen:9,ylen:10,yMajor:[2,4,6],yLab:['2','4','6'],showYLab:false,showXLab:true,labMargin:12}
];
const FONT='"Liberation Sans",Arial,sans-serif';
const grid=[],xAxis=[],yAxis=[],series=[];
panels.forEach((p,i)=>{
 const [l,t,w,h]=p.rect;
 grid.push({left:l,top:t,width:w,height:h,show:true,z:10,backgroundColor:'transparent',borderColor:'#222',borderWidth:1});
 const xi=xAxis.length, yi=yAxis.length;
 const xBase={type:'value',gridIndex:i,min:0,max:14.45,position:'bottom',splitLine:{show:false},axisLine:{show:false},z:11};
 xAxis.push(Object.assign({},xBase,{axisTick:{show:true,length:p.xlen,customValues:majorDays,lineStyle:{color:'#333'}},
   axisLabel:{show:p.showXLab,customValues:majorDays,margin:24,fontFamily:FONT,fontSize:23,color:'#000',showMinLabel:true,showMaxLabel:true},
   name:p.showXLab?'Days in March':'',nameLocation:'middle',nameGap:58,nameTextStyle:{fontFamily:FONT,fontSize:27,color:'#000'}}));
 xAxis.push(Object.assign({},xBase,{axisTick:{show:true,length:5,customValues:minorDays,lineStyle:{color:'#333'}},axisLabel:{show:false}}));
 const yBase={type:'value',gridIndex:i,min:p.ymin,max:p.ymax,position:'left',splitLine:{show:false},axisLine:{show:false},z:11};
 yAxis.push(Object.assign({},yBase,{axisTick:{show:true,inside:true,length:p.ylen,customValues:p.yMajor,lineStyle:{color:'#222'}},
   axisLabel:{show:p.showYLab,customValues:p.yMajor,margin:p.labMargin,fontFamily:FONT,fontSize:23,color:'#000',
     formatter:v=>p.yLab[p.yMajor.indexOf(Math.round(v))]}}));
 yAxis.push(Object.assign({},yBase,{axisTick:{show:true,inside:true,length:5,customValues:minorAlt,lineStyle:{color:'#333'}},axisLabel:{show:false}}));
 p.layers.forEach(([c,a])=>{
  const contour=c>=3&&c<=9;
  series.push({type:'line',xAxisIndex:xi,yAxisIndex:yi,data:pairs(a),showSymbol:false,silent:true,smooth:.25,smoothMonotone:'x',
   lineStyle:contour?{color:'rgba(165,150,235,.75)',width:.6}:{width:0},
   itemStyle:{color:coColors[c]},areaStyle:{color:coColors[c],opacity:1,origin:'start'},animation:false,clip:true,z:2});
 });
 series.push({type:'line',xAxisIndex:xi,yAxisIndex:yi,data:pairs(p.ground),showSymbol:false,silent:true,
   lineStyle:{color:'#111',width:1.2},itemStyle:{color:'#111'},areaStyle:{color:{image:hatch,repeat:'repeat'},opacity:1,origin:'start'},animation:false,z:3});
 series.push({type:'line',xAxisIndex:xi,yAxisIndex:yi,data:pairs(p.pblh),showSymbol:false,silent:true,smooth:.15,smoothMonotone:'x',
   lineStyle:{color:'#000',width:1.6},itemStyle:{color:'#000'},animation:false,z:4});
});

// colour bar
const barIdx=grid.length;
grid.push({left:263,top:817,width:404,height:27,show:false});
const barX=xAxis.length, barY=yAxis.length;
xAxis.push({type:'category',gridIndex:barIdx,position:'top',data:coColors.map((_,k)=>k),axisLine:{show:false},axisTick:{show:false},axisLabel:{show:false},splitLine:{show:false}});
xAxis.push({type:'value',gridIndex:barIdx,position:'bottom',min:0,max:20,axisLine:{show:false},axisTick:{show:false},splitLine:{show:false},
 axisLabel:{customValues:legendTickPositions,margin:7,fontFamily:'"DejaVu Sans",sans-serif',fontSize:21,color:'#000',
   formatter:v=>legendTickLabels[legendTickPositions.indexOf(Math.round(v))]}});
yAxis.push({type:'value',gridIndex:barIdx,min:0,max:1,show:false});
series.push({type:'bar',xAxisIndex:barX,yAxisIndex:barY,barWidth:'100%',silent:true,animation:false,
 data:coColors.map(c=>({value:1,itemStyle:{color:c,borderColor:'#111',borderWidth:1}}))});

function txt(x,y,s,size,color,extra){return Object.assign({type:'text',x,y,z:30,silent:true,style:{text:s,fontFamily:FONT,fontSize:size,fill:color}},extra||{});}
function vtxt(x,y,s){return {type:'text',x,y,z:30,silent:true,rotation:Math.PI/2,style:{text:s,fontFamily:FONT,fontSize:25,fill:'#000',textAlign:'center',textVerticalAlign:'middle'}};}
const chart=echarts.init(document.getElementById('c'),null,{renderer:'canvas'});
chart.setOption({animation:false,backgroundColor:'#fff',grid,xAxis,yAxis,series,tooltip:{show:false},
 graphic:[
  txt(252,19,'Mt.Hua',30,'#000'),txt(695,9,'Mt.Happo',31,'#000'),
  vtxt(27,218,'Altitude (km)'),vtxt(27,563,'Altitude (km)'),
  txt(101,69,'MOZART',34,'#fff'),txt(109,414,'CMAQ',32,'#fff'),
  txt(402,231,'PBLH',21.5,'#fff'),txt(863,229,'PBLH',21.5,'#fff'),
  {type:'text',x:667,y:829,z:30,silent:true,style:{text:'CO [ppbv]',fontFamily:'"DejaVu Sans",sans-serif',fontSize:19.5,fill:'#000'}}
 ]});
</script></body></html>
